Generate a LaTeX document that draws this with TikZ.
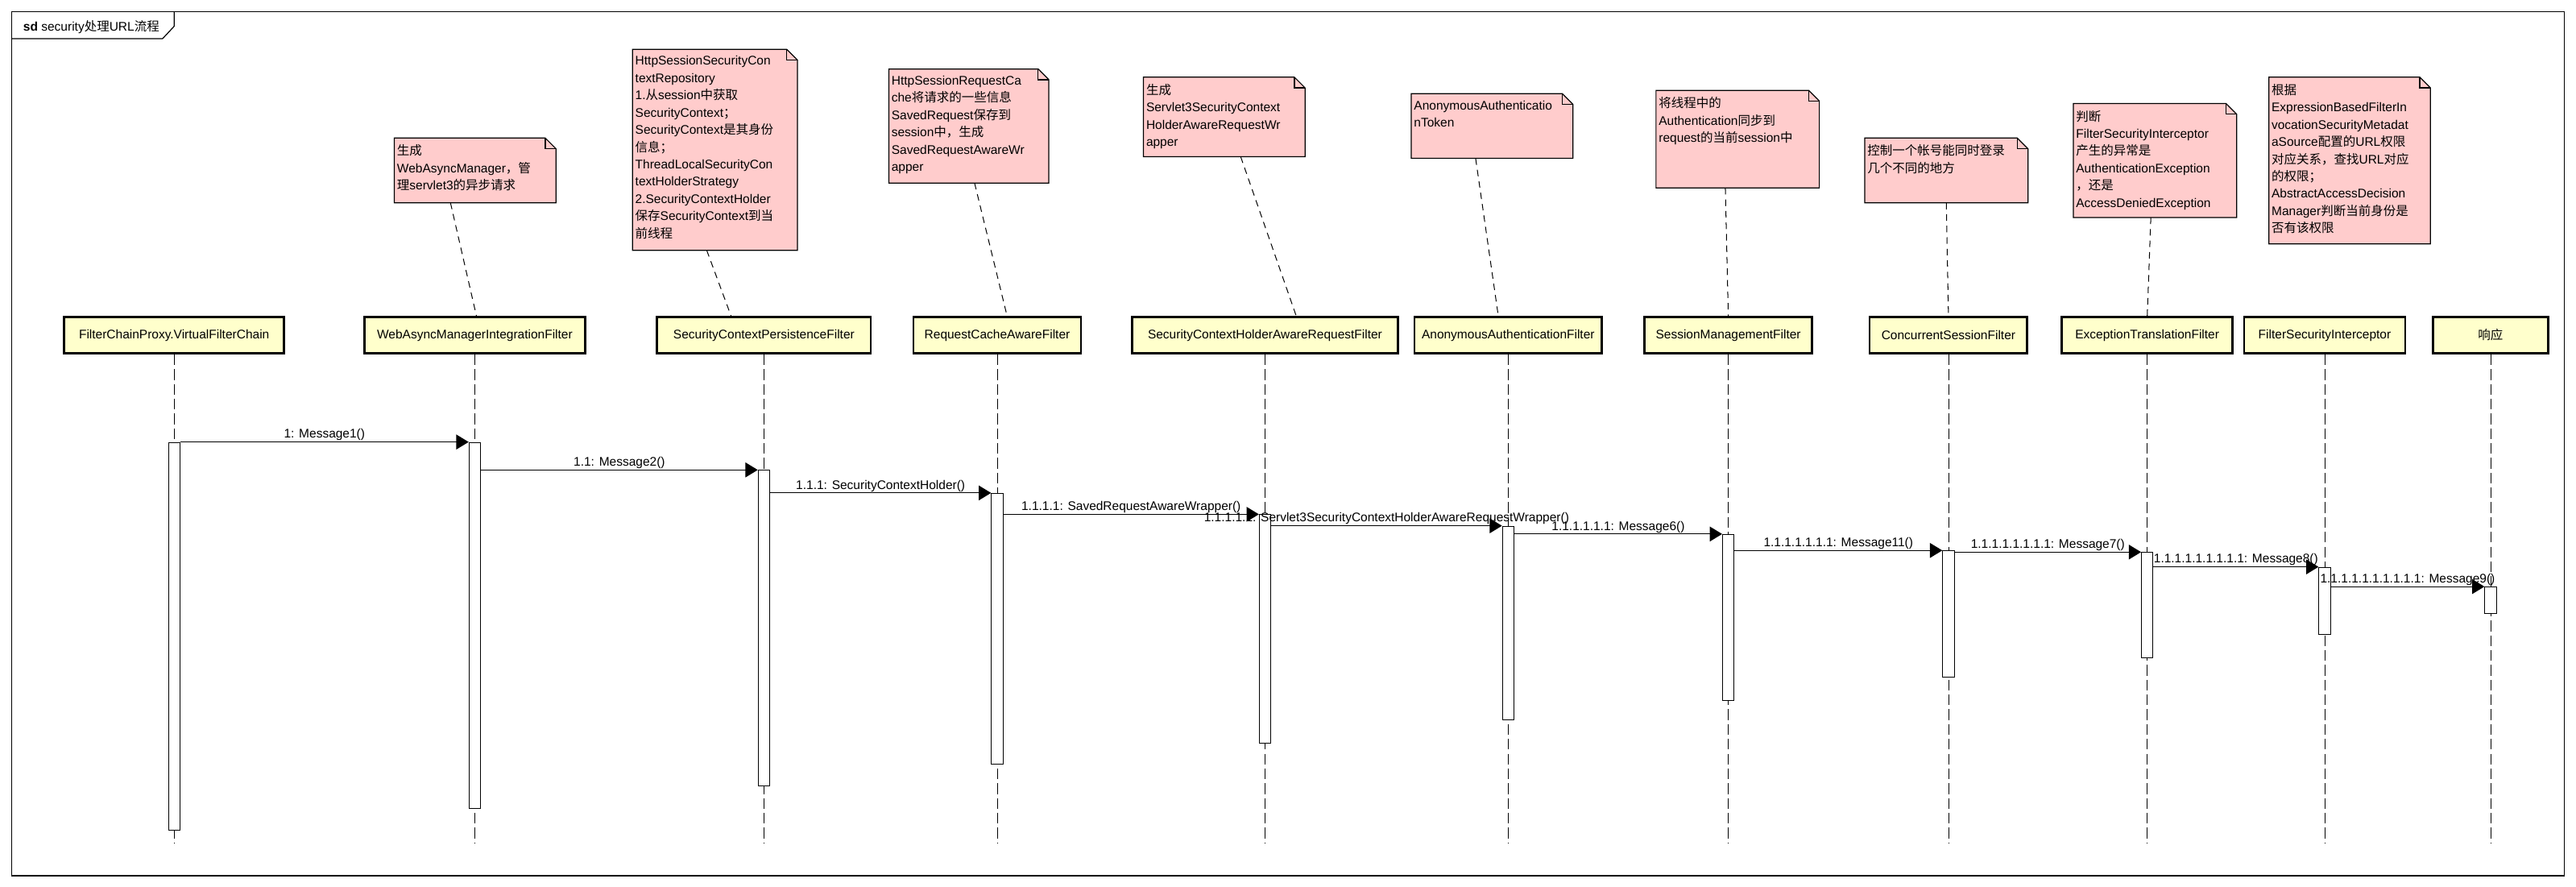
\documentclass[tikz,border=0pt]{standalone}
\usepackage{fontspec}
\setmainfont{Liberation Sans}
\newfontfamily\cjk{Noto Sans CJK SC}
\usetikzlibrary{arrows.meta,backgrounds}

\definecolor{headfill}{HTML}{FFFFCC}
\definecolor{notefill}{HTML}{FFCCCC}
\newcommand{\zh}[1]{{\cjk #1}}
\newcommand{\labelfont}{\fontsize{7.6}{10.5}\selectfont}
\newcommand{\notefold}{6.5pt}
% note outline with folded corner, drawn behind the text
\newcommand{\drawnote}[1]{%
  \filldraw[notebody] (#1.north west) -- ([xshift=-\notefold]#1.north east)
    -- ([yshift=-\notefold]#1.north east) -- (#1.south east) -- (#1.south west) -- cycle;
  \draw[notebody, fill=none] ([xshift=-\notefold]#1.north east) |- ([yshift=-\notefold]#1.north east);}

\begin{document}
\begin{tikzpicture}[x=1pt, y=-1pt,
    head/.style={draw, line width=1.4pt, fill=headfill, minimum height=22pt, inner sep=0pt, font=\labelfont},
    act/.style={draw, line width=0.5pt, fill=white, minimum width=7pt, inner sep=0pt, anchor=north},
    lifeline/.style={line width=0.4pt, dash pattern=on 6.5pt off 2.5pt},
    note/.style={minimum width=98pt, inner sep=0pt, anchor=north west},
    notebody/.style={draw, line width=0.6pt, fill=notefill},
    notetext/.style={anchor=north west, align=left, inner sep=0pt, font=\labelfont},
    notelink/.style={line width=0.5pt, dash pattern=on 4pt off 3pt},
    msg/.style={line width=0.5pt, -{Triangle[length=7.5pt,width=9pt]}},
    msglabel/.style={above=0.5pt, inner sep=0pt, font=\labelfont}]
  \useasboundingbox (0,0) rectangle (1568,539.8);

  % frame
  \draw[line width=0.6pt] (7,7) rectangle (1561,533);
  \draw[line width=0.6pt] (106,7) -- (106,16) -- (99,23.5) -- (7,23.5);
  \node[anchor=base west, inner sep=0pt, font=\labelfont] (title) at (14,19)
    {\textbf{sd} security\zh{处理}URL\zh{流程}};

  % lifeline heads
  \node[head, minimum width=134pt] (h1) at (106,204) {FilterChainProxy.VirtualFilterChain};
  \node[head, minimum width=134pt] (h2) at (289,204) {WebAsyncManagerIntegrationFilter};
  \node[head, minimum width=130pt] (h3) at (465,204) {SecurityContextPersistenceFilter};
  \node[head, minimum width=102pt] (h4) at (607,204) {RequestCacheAwareFilter};
  \node[head, minimum width=162pt] (h5) at (770,204) {SecurityContextHolderAwareRequestFilter};
  \node[head, minimum width=114pt] (h6) at (918,204) {AnonymousAuthenticationFilter};
  \node[head, minimum width=102pt] (h7) at (1052,204) {SessionManagementFilter};
  \node[head, minimum width=96pt] (h8) at (1186,204) {ConcurrentSessionFilter};
  \node[head, minimum width=104pt] (h9) at (1307,204) {ExceptionTranslationFilter};
  \node[head, minimum width=98pt] (h10) at (1415,204) {FilterSecurityInterceptor};
  \node[head, minimum width=70pt] (h11) at (1516,204) {\zh{响应}};

  % lifelines
  \coordinate (lifeend) at (0,513);
  \foreach \h in {h1,h2,h3,h4,h5,h6,h7,h8,h9,h10,h11}
    {\draw[lifeline] (\h.south) -- (\h.south |- lifeend);}

  % activations
  \node[act, minimum height=236pt] (a1) at (106,269) {};
  \node[act, minimum height=223pt] (a2) at (289,269) {};
  \node[act, minimum height=192pt] (a3) at (465,286) {};
  \node[act, minimum height=165pt] (a4) at (607,300) {};
  \node[act, minimum height=139pt] (a5) at (770,313) {};
  \node[act, minimum height=118pt] (a6) at (918,320) {};
  \node[act, minimum height=101pt] (a7) at (1052,325) {};
  \node[act, minimum height=77pt] (a8) at (1186,335) {};
  \node[act, minimum height=64pt] (a9) at (1307,336) {};
  \node[act, minimum height=41pt] (a10) at (1415,345) {};
  \node[act, minimum height=16pt] (a11) at (1516,357) {};

  % messages
  \draw[msg] (a1.east |- a2.north) -- (a2.north west) node[msglabel, midway] (m1) {1: Message1()};
  \draw[msg] (a2.east |- a3.north) -- (a3.north west) node[msglabel, midway] (m2) {1.1: Message2()};
  \draw[msg] (a3.east |- a4.north) -- (a4.north west) node[msglabel, midway] (m3) {1.1.1: SecurityContextHolder()};
  \draw[msg] (a4.east |- a5.north) -- (a5.north west) node[msglabel, midway] (m4) {1.1.1.1: SavedRequestAwareWrapper()};
  \draw[msg] (a5.east |- a6.north) -- (a6.north west) node[msglabel, midway] (m5) {1.1.1.1.1: Servlet3SecurityContextHolderAwareRequestWrapper()};
  \draw[msg] (a6.east |- a7.north) -- (a7.north west) node[msglabel, midway] (m6) {1.1.1.1.1.1: Message6()};
  \draw[msg] (a7.east |- a8.north) -- (a8.north west) node[msglabel, midway] (m7) {1.1.1.1.1.1.1: Message11()};
  \draw[msg] (a8.east |- a9.north) -- (a9.north west) node[msglabel, midway] (m8) {1.1.1.1.1.1.1.1: Message7()};
  \draw[msg] (a9.east |- a10.north) -- (a10.north west) node[msglabel, midway] (m9) {1.1.1.1.1.1.1.1.1: Message8()};
  \draw[msg] (a10.east |- a11.north) -- (a11.north west) node[msglabel, midway] (m10) {1.1.1.1.1.1.1.1.1.1: Message9()};

  % notes
  \node[note, minimum height=39pt] (n1) at (240,84) {};
  \node[note, minimum height=122pt, minimum width=100pt] (n2) at (385,30) {};
  \node[note, minimum height=69pt, minimum width=97pt] (n3) at (541,42) {};
  \node[note, minimum height=48pt] (n4) at (696,47) {};
  \node[note, minimum height=39pt] (n5) at (859,57) {};
  \node[note, minimum height=59pt, minimum width=99pt] (n6) at (1008,55) {};
  \node[note, minimum height=39pt, minimum width=99pt] (n7) at (1135,84) {};
  \node[note, minimum height=69pt, minimum width=99pt] (n8) at (1262,63) {};
  \node[note, minimum height=101pt] (n9) at (1381,47) {};
  \begin{scope}[on background layer]
    \foreach \n in {n1,n2,n3,n4,n5,n6,n7,n8,n9}
      {\drawnote{\n}}
  \end{scope}

  \node[notetext] (n1t) at ([shift={(1.5pt,-4pt)}]n1.north west)
    {\zh{生成}\\WebAsyncManager\zh{，管}\\\zh{理}servlet3\zh{的异步请求}};
  \node[notetext] (n2t) at ([shift={(1.5pt,-4pt)}]n2.north west)
    {HttpSessionSecurityCon\\textRepository\\1.\zh{从}session\zh{中获取}\\SecurityContext\zh{；}\\SecurityContext\zh{是其身份}\\\zh{信息；}\\ThreadLocalSecurityCon\\textHolderStrategy\\2.SecurityContextHolder\\\zh{保存}SecurityContext\zh{到当}\\\zh{前线程}};
  \node[notetext] (n3t) at ([shift={(1.5pt,-4pt)}]n3.north west)
    {HttpSessionRequestCa\\che\zh{将请求的一些信息}\\SavedRequest\zh{保存到}\\session\zh{中，生成}\\SavedRequestAwareWr\\apper};
  \node[notetext] (n4t) at ([shift={(1.5pt,-4pt)}]n4.north west)
    {\zh{生成}\\Servlet3SecurityContext\\HolderAwareRequestWr\\apper};
  \node[notetext] (n5t) at ([shift={(1.5pt,-4pt)}]n5.north west)
    {AnonymousAuthenticatio\\nToken};
  \node[notetext] (n6t) at ([shift={(1.5pt,-4pt)}]n6.north west)
    {\zh{将线程中的}\\Authentication\zh{同步到}\\request\zh{的当前}session\zh{中}};
  \node[notetext] (n7t) at ([shift={(1.5pt,-4pt)}]n7.north west)
    {\zh{控制一个帐号能同时登录}\\\zh{几个不同的地方}};
  \node[notetext] (n8t) at ([shift={(1.5pt,-4pt)}]n8.north west)
    {\zh{判断}\\FilterSecurityInterceptor\\\zh{产生的异常是}\\AuthenticationException\\\zh{，还是}\\AccessDeniedException};
  \node[notetext] (n9t) at ([shift={(1.5pt,-4pt)}]n9.north west)
    {\zh{根据}\\ExpressionBasedFilterIn\\vocationSecurityMetadat\\aSource\zh{配置的}URL\zh{权限}\\\zh{对应关系，查找}URL\zh{对应}\\\zh{的权限；}\\AbstractAccessDecision\\Manager\zh{判断当前身份是}\\\zh{否有该权限}};

  % note links
  \draw[notelink] ([xshift=-15pt]n1.south) -- ([xshift=1pt]h2.north);
  \draw[notelink] ([xshift=-5pt]n2.south) -- ([xshift=-20pt]h3.north);
  \draw[notelink] ([xshift=3.5pt]n3.south) -- ([xshift=6pt]h4.north);
  \draw[notelink] ([xshift=10pt]n4.south) -- ([xshift=19pt]h5.north);
  \draw[notelink] ([xshift=-10pt]n5.south) -- ([xshift=-6pt]h6.north);
  \draw[notelink] ([xshift=-7.5pt]n6.south) -- (h7.north);
  \draw[notelink] (n7.south) -- (h8.north);
  \draw[notelink] ([xshift=-2.5pt]n8.south) -- (h9.north);
\end{tikzpicture}
\end{document}
